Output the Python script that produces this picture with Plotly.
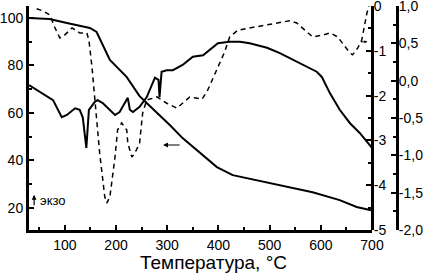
import plotly.graph_objects as go

# TG curve (left axis, %)
tg_t = [30, 70, 104, 149, 162, 175, 188, 221, 246, 266, 285, 305, 330, 363, 397, 428, 475, 539, 584, 637, 670, 696, 700]
tg_v = [100.0, 99.6, 97.9, 95.8, 94.1, 88.5, 82.3, 75.1, 67.1, 62.9, 59.1, 54.9, 49.4, 43.5, 37.2, 33.8, 31.7, 28.7, 26.6, 23.3, 20.4, 19.1, 19.0]

# DTG curve (dashed, inner right axis 0..-5)
dtg_t = [45, 55, 71, 80, 90, 96, 114, 129, 143, 147, 153, 159, 164, 168, 178, 182, 188, 198, 203, 211, 221, 223, 231, 237, 246, 252, 260, 280, 299, 319, 344, 368, 379, 397, 412, 422, 438, 461, 495, 520, 539, 553, 573, 584, 604, 618, 633, 643, 657, 662, 672, 680, 686, 690, 694]
dtg_v = [-0.06, -0.10, -0.20, -0.47, -0.71, -0.69, -0.49, -0.60, -0.60, -0.76, -1.36, -2.10, -2.83, -3.28, -4.26, -4.40, -4.26, -3.37, -2.77, -2.61, -2.77, -3.06, -3.37, -3.28, -3.06, -2.39, -2.10, -2.03, -2.17, -2.28, -2.03, -2.08, -1.88, -1.43, -1.03, -0.69, -0.54, -0.49, -0.42, -0.36, -0.33, -0.38, -0.58, -0.69, -0.65, -0.60, -0.69, -0.83, -1.05, -1.09, -0.94, -0.76, -0.38, -0.16, 0.0]

# DTA curve (outer right axis 1.0..-2.0)
dta_t = [30, 57, 77, 94, 104, 120, 129, 135, 139, 142, 144, 147, 159, 164, 174, 188, 198, 207, 213, 223, 227, 233, 246, 260, 276, 283, 285, 287, 289, 299, 311, 330, 350, 370, 387, 399, 422, 442, 461, 495, 520, 545, 573, 592, 602, 618, 637, 657, 676, 700]
dta_v = [-0.06, -0.17, -0.26, -0.49, -0.46, -0.37, -0.39, -0.49, -0.70, -0.90, -0.70, -0.39, -0.28, -0.26, -0.30, -0.39, -0.46, -0.42, -0.35, -0.23, -0.39, -0.42, -0.35, -0.22, 0.04, 0.01, -0.22, 0.01, 0.12, 0.14, 0.14, 0.21, 0.32, 0.34, 0.44, 0.50, 0.52, 0.52, 0.50, 0.44, 0.37, 0.28, 0.18, 0.12, 0.05, -0.17, -0.39, -0.57, -0.70, -0.90]

x_ticks = [100, 200, 300, 400, 500, 600, 700]
left_ticks = [20, 40, 60, 80, 100]
inner_ticks = [-5, -4, -3, -2, -1, 0]
inner_text = ["-5", "-4", "-3", "-2", "-1", "0"]
outer_ticks = [-2.0, -1.5, -1.0, -0.5, 0.0, 0.5, 1.0]
outer_text = ["-2,0", "-1,5", "-1,0", "-0,5", "0,0", "0,5", "1,0"]
x_title = "Температура, °C"
exo_label = "экзо"

FONT = "Liberation Sans, Arial, sans-serif"
DOM = 343 / 368

fig = go.Figure()
fig.add_trace(go.Scatter(x=tg_t, y=tg_v, mode="lines", line=dict(color="black", width=2), yaxis="y"))
fig.add_trace(go.Scatter(x=dtg_t, y=dtg_v, mode="lines", line=dict(color="black", width=1.5, dash="5px,4px"), yaxis="y2"))
fig.add_trace(go.Scatter(x=dta_t, y=dta_v, mode="lines", line=dict(color="black", width=2), yaxis="y3"))

axis_common = dict(showgrid=False, zeroline=False, showline=True, linecolor="black", linewidth=3,
                   ticks="inside", tickcolor="black", tickwidth=2, ticklen=5, automargin=False,
                   ticklabeloverflow="allow",
                   tickfont=dict(family=FONT, size=14, color="black"))

fig.update_layout(
    width=428, height=275,
    margin=dict(l=29, r=31, t=6, b=45, autoexpand=False),
    paper_bgcolor="white", plot_bgcolor="white",
    showlegend=False,
    font=dict(family=FONT, color="black"),
    xaxis=dict(domain=[0, DOM], range=[30, 700], tickvals=x_ticks, anchor="y",
               minor=dict(ticks="inside", dtick=50, tick0=0, ticklen=3, tickwidth=2, tickcolor="black"),
               **axis_common),
    yaxis=dict(range=[10.7, 105.05], tickvals=left_ticks, side="left", anchor="x",
               minor=dict(ticks="inside", dtick=10, tick0=0, ticklen=3, tickwidth=2, tickcolor="black"),
               **axis_common),
    yaxis2=dict(range=[-5, 0], tickvals=inner_ticks, ticktext=inner_text, overlaying="y", side="right",
                anchor="free", position=DOM, ticklabelstandoff=-3,
                minor=dict(ticks="inside", dtick=0.5, tick0=0, ticklen=3, tickwidth=2, tickcolor="black"),
                **axis_common),
    yaxis3=dict(range=[-2, 1], tickvals=outer_ticks, ticktext=outer_text, overlaying="y", side="right",
                anchor="free", position=1.0, ticklabelstandoff=-3,
                minor=dict(ticks="inside", dtick=0.25, tick0=0, ticklen=3, tickwidth=2, tickcolor="black"),
                **axis_common),
)

# x-axis title
fig.add_annotation(text=x_title, xref="paper", yref="paper", x=0.5, y=-0.145, showarrow=False,
                   xanchor="center", yanchor="middle", font=dict(family=FONT, size=19, color="black"))
# exo label with up arrow
fig.add_annotation(x=40, y=25.5, xref="x", yref="y", ax=0, ay=12, showarrow=True,
                   arrowhead=2, arrowsize=0.8, arrowwidth=1.2, arrowcolor="black", text="")
fig.add_annotation(text=exo_label, x=47, y=23.3, xref="x", yref="y", showarrow=False,
                   xanchor="left", yanchor="middle", font=dict(family=FONT, size=13, color="black"))
# arrow pointing to left axis (TG)
fig.add_annotation(x=292, y=46.5, xref="x", yref="y", ax=18, ay=0, showarrow=True,
                   arrowhead=2, arrowsize=0.8, arrowwidth=1.2, arrowcolor="black", text="")
# arrow pointing to inner right axis (DTG)
fig.add_annotation(x=691, y=-0.8, xref="x", yref="y2", ax=-8, ay=0, showarrow=True,
                   arrowhead=2, arrowsize=0.6, arrowwidth=1, arrowcolor="black", text="")

fig.write_html("out.html", config={"displayModeBar": False},
               post_script="document.body.style.margin='0';document.body.style.overflow='hidden';")
